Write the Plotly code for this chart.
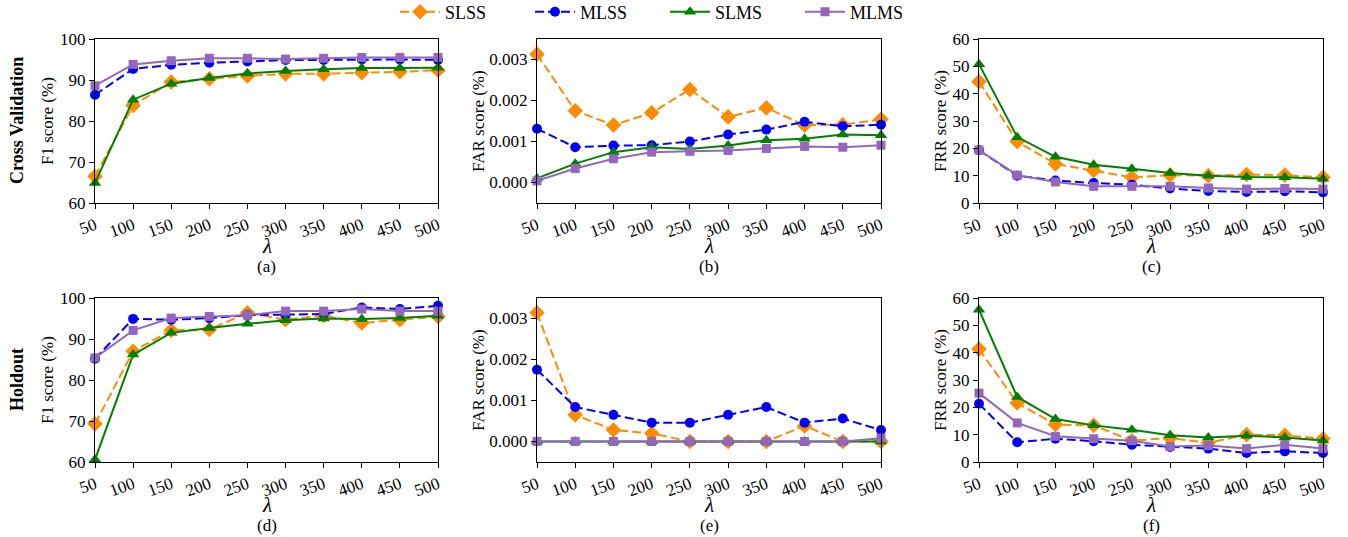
import plotly.graph_objects as go

lam = [50, 100, 150, 200, 250, 300, 350, 400, 450, 500]
series_names = ["SLSS", "MLSS", "SLMS", "MLMS"]

# Cross validation
cv_f1_slss = [66.5, 83.8, 89.5, 90.3, 91.0, 91.5, 91.5, 91.8, 92.0, 92.4]
cv_f1_mlss = [86.4, 92.7, 93.7, 94.2, 94.5, 94.9, 94.9, 95.0, 95.0, 94.9]
cv_f1_slms = [64.9, 85.2, 89.1, 90.5, 91.6, 92.2, 92.6, 92.9, 92.9, 93.0]
cv_f1_mlms = [88.6, 93.8, 94.7, 95.3, 95.3, 95.1, 95.3, 95.5, 95.5, 95.5]

cv_far_slss = [0.00313, 0.00175, 0.00140, 0.00170, 0.00227, 0.00160, 0.00182, 0.00140, 0.00141, 0.00154]
cv_far_mlss = [0.00131, 0.00086, 0.00090, 0.00091, 0.00100, 0.00117, 0.00129, 0.00148, 0.00137, 0.00141]
cv_far_slms = [0.00010, 0.00046, 0.00074, 0.00086, 0.00082, 0.00090, 0.00103, 0.00107, 0.00117, 0.00115]
cv_far_mlms = [0.00004, 0.00034, 0.00058, 0.00074, 0.00076, 0.00078, 0.00083, 0.00088, 0.00086, 0.00091]

cv_frr_slss = [44.4, 22.5, 14.3, 11.9, 9.4, 10.2, 10.0, 10.4, 10.2, 9.4]
cv_frr_mlss = [19.3, 10.0, 8.2, 7.3, 6.7, 5.3, 4.4, 4.0, 4.3, 3.9]
cv_frr_slms = [50.8, 24.1, 16.9, 14.0, 12.5, 11.0, 10.0, 9.5, 9.4, 8.9]
cv_frr_mlms = [19.4, 10.2, 7.7, 6.1, 6.1, 6.1, 5.5, 5.1, 5.3, 5.1]

# Holdout
ho_f1_slss = [69.3, 87.0, 92.1, 92.3, 96.4, 94.7, 95.7, 93.9, 94.7, 95.5]
ho_f1_mlss = [85.2, 94.9, 94.7, 95.1, 95.8, 95.9, 96.1, 97.7, 97.3, 98.1]
ho_f1_slms = [60.6, 86.2, 91.5, 92.7, 93.7, 94.6, 95.0, 94.9, 95.1, 95.7]
ho_f1_mlms = [85.4, 92.1, 95.1, 95.5, 95.8, 96.8, 96.8, 97.3, 96.8, 96.8]

ho_far_slss = [0.00314, 0.00065, 0.00028, 0.00020, 0.0, 0.0, 0.0, 0.00038, 0.0, 0.0]
ho_far_mlss = [0.00175, 0.00084, 0.00065, 0.00046, 0.00046, 0.00065, 0.00084, 0.00046, 0.00056, 0.00028]
ho_far_slms = [0.0, 0.0, 0.0, 0.0, 0.0, 0.0, 0.0, 0.0, 0.0, 0.0]
ho_far_mlms = [0.0, 0.0, 0.0, 0.0, 0.0, 0.0, 0.0, 0.0, 0.0, 0.00008]

ho_frr_slss = [41.3, 21.6, 13.7, 13.4, 7.8, 8.8, 7.0, 10.0, 9.8, 8.5]
ho_frr_mlss = [21.3, 7.2, 8.5, 7.6, 6.3, 5.5, 4.9, 3.3, 3.9, 3.3]
ho_frr_slms = [55.7, 23.8, 15.7, 13.4, 11.8, 9.8, 9.0, 9.6, 9.0, 7.9]
ho_frr_mlms = [25.2, 14.3, 9.4, 8.5, 7.8, 5.7, 6.0, 4.9, 6.3, 4.9]

panels = [
    [cv_f1_slss, cv_f1_mlss, cv_f1_slms, cv_f1_mlms],
    [cv_far_slss, cv_far_mlss, cv_far_slms, cv_far_mlms],
    [cv_frr_slss, cv_frr_mlss, cv_frr_slms, cv_frr_mlms],
    [ho_f1_slss, ho_f1_mlss, ho_f1_slms, ho_f1_mlms],
    [ho_far_slss, ho_far_mlss, ho_far_slms, ho_far_mlms],
    [ho_frr_slss, ho_frr_mlss, ho_frr_slms, ho_frr_mlms],
]
panel_labels = ["(a)", "(b)", "(c)", "(d)", "(e)", "(f)"]
y_titles = ["F1 score (%)", "FAR score (%)", "FRR score (%)"] * 2
row_titles = ["Cross Validation", "Holdout"]

colors = ["#ff8c00", "#0000ff", "#008000", "#9467bd"]
symbols = ["diamond", "circle", "triangle-up", "square"]
msizes = [12, 10, 11, 9]
dashes = ["9px,4px", "9px,4px", "solid", "solid"]

W, H = 1348, 537
FONT = "Liberation Serif, Times New Roman, serif"


def fx(px):
    return px / W


def fy(py):
    return 1 - py / H


xpix = [(95, 438), (537, 881), (979, 1323)]
ypix = [(39, 203), (298, 462)]

fig = go.Figure()
annotations = []

for p in range(6):
    r, c = divmod(p, 3)
    ax = "" if p == 0 else str(p + 1)
    for s in range(4):
        fig.add_trace(go.Scatter(
            x=lam, y=panels[p][s], name=series_names[s],
            mode="lines+markers",
            line=dict(color=colors[s], width=2, dash=dashes[s]),
            marker=dict(symbol=symbols[s], size=msizes[s], color=colors[s], line=dict(width=0)),
            xaxis="x" + ax, yaxis="y" + ax,
            showlegend=(p == 0), legendgroup=series_names[s], cliponaxis=False,
        ))
    x0, x1 = xpix[c]
    y0, y1 = ypix[r]
    common = dict(showline=True, linecolor="black", linewidth=1, mirror=True,
                  ticks="outside", ticklen=5, tickwidth=1, tickcolor="black",
                  showgrid=False, zeroline=False, automargin=False,
                  tickfont=dict(family=FONT, size=17, color="black"))
    fig.layout["xaxis" + ax] = dict(
        domain=[fx(x0), fx(x1)], anchor="y" + ax, range=[50, 500],
        tickmode="array", tickvals=lam, ticktext=[str(v) for v in lam],
        tickangle=-20, **common)
    if c == 0:
        yr, ytv, ytt = [60, 100], [60, 70, 80, 90, 100], ["60", "70", "80", "90", "100"]
    elif c == 1:
        yr, ytv, ytt = [-0.0005, 0.0035], [0, 0.001, 0.002, 0.003], ["0.000", "0.001", "0.002", "0.003"]
    else:
        yr, ytv, ytt = [0, 60], [0, 10, 20, 30, 40, 50, 60], ["0", "10", "20", "30", "40", "50", "60"]
    fig.layout["yaxis" + ax] = dict(
        domain=[fy(y1), fy(y0)], anchor="x" + ax, range=yr,
        tickmode="array", tickvals=ytv, ticktext=ytt, **common)

    xc = (x0 + x1) / 2
    annotations.append(dict(text="<i>λ</i>", x=fx(xc), y=fy(y1 + 43), xref="paper", yref="paper",
                            showarrow=False, font=dict(family=FONT, size=21, color="black"),
                            xanchor="center", yanchor="middle"))
    annotations.append(dict(text=panel_labels[p], x=fx(xc), y=fy(y1 + 63), xref="paper", yref="paper",
                            showarrow=False, font=dict(family=FONT, size=17, color="black"),
                            xanchor="center", yanchor="middle"))
    ytx = [47, 478, 940][c]
    annotations.append(dict(text=y_titles[p], x=fx(ytx), y=fy((y0 + y1) / 2), xref="paper", yref="paper",
                            showarrow=False, textangle=-90, font=dict(family=FONT, size=17, color="black"),
                            xanchor="center", yanchor="middle"))

for r in range(2):
    cy = [121, 380][r]
    annotations.append(dict(text="<b>" + row_titles[r] + "</b>", x=fx(17), y=fy(cy), xref="paper", yref="paper",
                            showarrow=False, textangle=-90, font=dict(family=FONT, size=18, color="black"),
                            xanchor="center", yanchor="middle"))

fig.update_layout(
    width=W, height=H,
    margin=dict(l=0, r=0, t=0, b=0, autoexpand=False),
    paper_bgcolor="white", plot_bgcolor="white",
    annotations=annotations,
    showlegend=True,
    legend=dict(orientation="h", x=fx(665), xanchor="center", y=fy(12), yanchor="middle",
                font=dict(family=FONT, size=18, color="black"),
                entrywidth=80, entrywidthmode="pixels", itemwidth=40,
                bgcolor="rgba(0,0,0,0)"),
    font=dict(family=FONT, color="black"),
)

fig.write_html("out.html", config={"displayModeBar": False},
               post_script="document.body.style.margin='0px';")
